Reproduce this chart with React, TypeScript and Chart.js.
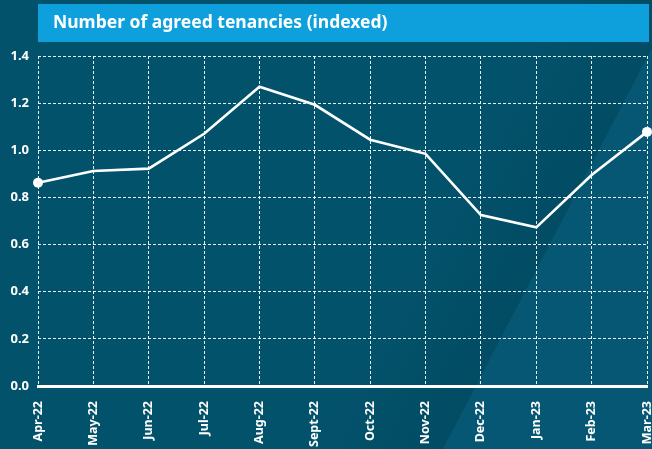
import React, { useEffect, useRef } from "react";
import { Chart, registerables } from "chart.js";

Chart.register(...registerables);

const TITLE = "Number of agreed tenancies (indexed)";
const months = ["Apr-22", "May-22", "Jun-22", "Jul-22", "Aug-22", "Sept-22", "Oct-22", "Nov-22", "Dec-22", "Jan-23", "Feb-23", "Mar-23"];
const tenancies = [0.862, 0.912, 0.922, 1.07, 1.27, 1.193, 1.045, 0.985, 0.725, 0.673, 0.895, 1.078];
const yMin = 0;
const yMax = 1.4;
const yStep = 0.2;

const FONT = "'Noto Sans', 'Open Sans', sans-serif";

const backgroundPlugin = {
  id: "bgPlugin",
  beforeDraw(chart: any) {
    const { ctx, width, height } = chart;
    ctx.save();
    ctx.fillStyle = "#03526c";
    ctx.fillRect(0, 0, width, height);
    const p0x = 443, p0y = height;
    const p1x = 652, p1y = 48;
    const dx = p1x - p0x, dy = p1y - p0y;
    const len = Math.hypot(dx, dy);
    // normal pointing left
    const nx = dy / len, ny = -dx / len;
    const g = ctx.createLinearGradient(p0x, p0y, p0x + nx * 120, p0y + ny * 120);
    g.addColorStop(0, "rgba(1,68,90,0.45)");
    g.addColorStop(1, "rgba(1,68,90,0)");
    ctx.beginPath();
    ctx.moveTo(p0x, p0y);
    ctx.lineTo(p1x, p1y);
    ctx.lineTo(p1x, 0);
    ctx.lineTo(0, 0);
    ctx.lineTo(0, height);
    ctx.closePath();
    ctx.fillStyle = g;
    ctx.fill();
    ctx.beginPath();
    ctx.moveTo(p0x, p0y);
    ctx.lineTo(p1x, p1y);
    ctx.lineTo(width, p1y);
    ctx.lineTo(width, height);
    ctx.closePath();
    ctx.fillStyle = "#055774";
    ctx.fill();
    ctx.fillStyle = "#0ea0dc";
    ctx.fillRect(38, 4, 611, 38);
    ctx.fillStyle = "#ffffff";
    ctx.font = `bold 17.5px ${FONT}`;
    ctx.textBaseline = "middle";
    ctx.textAlign = "left";
    ctx.fillText(TITLE, 53, 23);
    ctx.restore();
  },
};

export default function App() {
  const ref = useRef<HTMLCanvasElement>(null);
  useEffect(() => {
    const chart = new Chart(ref.current!, {
      type: "line",
      data: {
        labels: months,
        datasets: [
          {
            data: tenancies,
            borderColor: "#ffffff",
            borderWidth: 2.6,
            tension: 0,
            pointRadius: tenancies.map((_, i) => (i === 0 || i === tenancies.length - 1 ? 5 : 0)),
            pointBackgroundColor: "#ffffff",
            pointBorderWidth: 0,
            clip: false as any,
          },
        ],
      },
      options: {
        responsive: false,
        animation: false,
        layout: { padding: { top: 56, right: 4, left: 0, bottom: 0 } },
        plugins: { legend: { display: false }, tooltip: { enabled: false }, title: { display: false } },
        scales: {
          x: {
            offset: false,
            grid: { color: "rgba(255,255,255,0.9)", lineWidth: 1, drawTicks: false },
            border: { display: true, color: "#ffffff", width: 3, dash: [3, 2] },
            ticks: {
              color: "#ffffff",
              font: { family: FONT, weight: "bold", size: 12.5 },
              autoSkip: false,
              minRotation: 90,
              maxRotation: 90,
              padding: 15,
            },
            afterFit(s: any) {
              s.height = 63;
              s.paddingLeft = 0;
              s.paddingRight = 0;
            },
          },
          y: {
            min: yMin,
            max: yMax,
            grid: {
              color: (c: any) => (c.tick && c.tick.value === 0 ? "rgba(0,0,0,0)" : "rgba(255,255,255,0.9)"),
              lineWidth: 1,
              drawTicks: false,
            },
            border: { display: false, dash: [3, 2] },
            ticks: {
              stepSize: yStep,
              color: "#ffffff",
              font: { family: FONT, weight: "bold", size: 13 },
              padding: 9,
              callback: (v: any) => Number(v).toFixed(1),
            },
            afterFit(s: any) {
              s.width = 38;
              s.paddingTop = 0;
              s.paddingBottom = 0;
            },
          },
        },
      },
      plugins: [backgroundPlugin],
    });
    return () => chart.destroy();
  }, []);
  return (
    <div style={{ position: "fixed", left: 0, top: 0, width: 652, height: 449 }}>
      <canvas ref={ref} width={652} height={449} style={{ display: "block" }} />
    </div>
  );
}
